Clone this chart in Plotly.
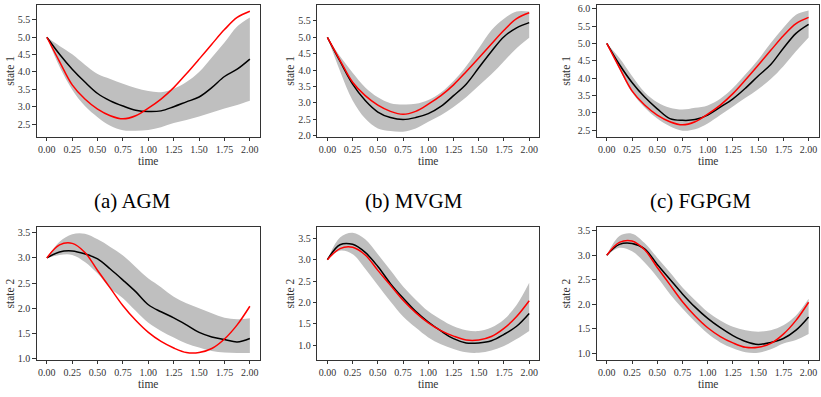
import plotly.graph_objects as go

# ---------------- data ----------------
T = [0.0, 0.125, 0.25, 0.375, 0.5, 0.625, 0.75, 0.875, 1.0,
     1.125, 1.25, 1.375, 1.5, 1.625, 1.75, 1.875, 2.0]

TRUE_S1 = [5.0, 4.3, 3.63, 3.22, 2.93, 2.74, 2.65, 2.74, 2.96,
           3.22, 3.55, 3.95, 4.37, 4.8, 5.22, 5.57, 5.75]
TRUE_S2 = [3.0, 3.26, 3.29, 3.11, 2.75, 2.4, 2.05, 1.76, 1.52,
           1.34, 1.21, 1.12, 1.12, 1.2, 1.39, 1.67, 2.04]

# AGM
AGM_MEAN1 = [5.0, 4.51, 4.08, 3.71, 3.38, 3.17, 3.02, 2.9, 2.86,
             2.88, 3.0, 3.14, 3.28, 3.55, 3.87, 4.08, 4.37]
AGM_UP1 = [5.0, 4.75, 4.51, 4.21, 3.94, 3.8, 3.66, 3.54, 3.45,
           3.42, 3.52, 3.71, 4.0, 4.42, 4.85, 5.31, 5.57]
AGM_LO1 = [5.0, 4.15, 3.49, 3.02, 2.70, 2.45, 2.32, 2.31, 2.33,
           2.41, 2.53, 2.62, 2.72, 2.83, 2.95, 3.05, 3.17]
AGM_MEAN2 = [3.0, 3.12, 3.14, 3.08, 2.98, 2.78, 2.56, 2.33, 2.07,
             1.93, 1.81, 1.67, 1.52, 1.43, 1.38, 1.33, 1.40]
AGM_UP2 = [3.0, 3.32, 3.47, 3.48, 3.37, 3.22, 3.05, 2.82, 2.59,
           2.42, 2.23, 2.1, 2.0, 1.9, 1.81, 1.78, 1.8]
AGM_LO2 = [3.0, 3.06, 3.06, 2.92, 2.69, 2.40, 2.20, 1.95, 1.71,
           1.55, 1.42, 1.3, 1.22, 1.15, 1.12, 1.11, 1.11]

# MVGM
MVGM_MEAN1 = [5.0, 4.27, 3.57, 3.07, 2.72, 2.55, 2.49, 2.55, 2.67,
              2.89, 3.22, 3.57, 4.07, 4.57, 5.02, 5.29, 5.45]
MVGM_UP1 = [5.0, 4.42, 3.92, 3.47, 3.17, 2.99, 2.95, 2.97, 3.09,
            3.32, 3.67, 4.12, 4.67, 5.22, 5.57, 5.79, 5.79]
MVGM_LO1 = [5.0, 3.97, 3.07, 2.52, 2.22, 2.14, 2.12, 2.22, 2.42,
            2.62, 2.87, 3.17, 3.52, 3.87, 4.27, 4.67, 4.99]
MVGM_MEAN2 = [3.0, 3.35, 3.36, 3.17, 2.84, 2.44, 2.10, 1.79, 1.54,
              1.33, 1.15, 1.05, 1.05, 1.10, 1.25, 1.44, 1.74]
MVGM_UP2 = [3.0, 3.52, 3.63, 3.48, 3.13, 2.75, 2.37, 2.06, 1.79,
            1.60, 1.44, 1.35, 1.33, 1.41, 1.60, 1.94, 2.46]
MVGM_LO2 = [3.0, 3.21, 3.13, 2.79, 2.40, 2.02, 1.67, 1.41, 1.18,
            1.02, 0.91, 0.83, 0.82, 0.87, 0.98, 1.14, 1.33]

# FGPGM
FGPGM_MEAN1 = [5.0, 4.39, 3.87, 3.45, 3.11, 2.83, 2.78, 2.80, 2.93,
               3.16, 3.40, 3.71, 4.06, 4.39, 4.86, 5.29, 5.55]
FGPGM_UP1 = [5.0, 4.58, 4.06, 3.59, 3.30, 3.14, 3.09, 3.14, 3.21,
             3.40, 3.71, 4.11, 4.53, 5.01, 5.45, 5.83, 5.95]
FGPGM_LO1 = [5.0, 4.25, 3.58, 3.15, 2.83, 2.61, 2.48, 2.52, 2.69,
             2.93, 3.18, 3.43, 3.68, 3.97, 4.34, 4.77, 5.17]
FGPGM_MEAN2 = [3.0, 3.22, 3.24, 3.13, 2.81, 2.51, 2.21, 1.94, 1.71,
               1.52, 1.36, 1.24, 1.18, 1.22, 1.30, 1.47, 1.74]
FGPGM_UP2 = [3.0, 3.39, 3.44, 3.25, 2.95, 2.65, 2.34, 2.08, 1.84,
             1.67, 1.54, 1.47, 1.44, 1.47, 1.57, 1.77, 2.11]
FGPGM_LO2 = [3.0, 3.15, 3.08, 2.85, 2.55, 2.21, 1.91, 1.64, 1.40,
             1.22, 1.10, 1.02, 1.01, 1.08, 1.20, 1.27, 1.39]

CAPTIONS = ["(a) AGM", "(b) MVGM", "(c) FGPGM"]
X_TICKS = [0.0, 0.25, 0.5, 0.75, 1.0, 1.25, 1.5, 1.75, 2.0]

# ---------------- layout geometry (pixels) ----------------
W, H = 821, 397
COL_PX = [(36.7, 260.0), (317.3, 539.3), (596.7, 818.7)]
ROW_PX = [(3.0, 137.0), (229.3, 364.0)]
Y_RANGES = [[(2.14, 5.93), (1.97, 5.99), (2.31, 6.11)],
            [(0.98, 3.61), (0.66, 3.76), (0.87, 3.57)]]
STATE_LABEL_X = [10.0, 290.0, 566.0]
CAPTION_X = [132.5, 414.0, 700.0]
CAPTION_Y = 203.0

panels = [
    [(AGM_MEAN1, AGM_UP1, AGM_LO1, TRUE_S1),
     (MVGM_MEAN1, MVGM_UP1, MVGM_LO1, TRUE_S1),
     (FGPGM_MEAN1, FGPGM_UP1, FGPGM_LO1, TRUE_S1)],
    [(AGM_MEAN2, AGM_UP2, AGM_LO2, TRUE_S2),
     (MVGM_MEAN2, MVGM_UP2, MVGM_LO2, TRUE_S2),
     (FGPGM_MEAN2, FGPGM_UP2, FGPGM_LO2, TRUE_S2)],
]

FONT = "Liberation Serif"
AX_COLOR = "#333333"

fig = go.Figure()
layout = dict(width=W, height=H, margin=dict(l=0, r=0, t=0, b=0),
              paper_bgcolor="white", plot_bgcolor="white",
              showlegend=False, annotations=[])

idx = 0
for r in range(2):
    for c in range(3):
        idx += 1
        xa = "x" if idx == 1 else f"x{idx}"
        ya = "y" if idx == 1 else f"y{idx}"
        mean, up, lo, true = panels[r][c]
        fig.add_trace(go.Scatter(x=T, y=lo, mode="lines", line=dict(width=0, shape="spline"),
                                 hoverinfo="skip", xaxis=xa, yaxis=ya))
        fig.add_trace(go.Scatter(x=T, y=up, mode="lines", line=dict(width=0, shape="spline"),
                                 fill="tonexty", fillcolor="#bfbfbf",
                                 hoverinfo="skip", xaxis=xa, yaxis=ya))
        fig.add_trace(go.Scatter(x=T, y=mean, mode="lines",
                                 line=dict(color="black", width=1.5, shape="spline"),
                                 xaxis=xa, yaxis=ya))
        fig.add_trace(go.Scatter(x=T, y=true, mode="lines",
                                 line=dict(color="red", width=1.5, shape="spline"),
                                 xaxis=xa, yaxis=ya))
        x0, x1 = COL_PX[c]
        y0, y1 = ROW_PX[r]
        common = dict(showgrid=False, zeroline=False, showline=True, mirror=True,
                      linecolor=AX_COLOR, linewidth=1, ticks="outside", ticklen=3.5,
                      tickwidth=1, tickcolor=AX_COLOR,
                      tickfont=dict(family=FONT, size=10, color="#333333"))
        layout["xaxis" if idx == 1 else f"xaxis{idx}"] = dict(
            domain=[x0 / W, x1 / W], range=[-0.1, 2.1], anchor=ya,
            tickvals=X_TICKS, ticktext=[f"{v:.2f}" for v in X_TICKS], **common)
        yr = Y_RANGES[r][c]
        layout["yaxis" if idx == 1 else f"yaxis{idx}"] = dict(
            domain=[1 - y1 / H, 1 - y0 / H], range=list(yr), anchor=xa,
            tickmode="linear", tick0=0, dtick=0.5, tickformat=".1f", **common)
        # axis titles
        layout["annotations"].append(dict(
            text="time", xref="paper", yref="paper", showarrow=False,
            x=((x0 + x1) / 2) / W, y=1 - (y1 + 24.5) / H, xanchor="center", yanchor="middle",
            font=dict(family=FONT, size=11.5, color="#333333")))
        layout["annotations"].append(dict(
            text=f"state {r + 1}", xref="paper", yref="paper", showarrow=False,
            x=STATE_LABEL_X[c] / W, y=1 - ((y0 + y1) / 2) / H, textangle=-90,
            xanchor="center", yanchor="middle",
            font=dict(family=FONT, size=11.5, color="#333333")))

for c in range(3):
    layout["annotations"].append(dict(
        text=CAPTIONS[c], xref="paper", yref="paper", showarrow=False,
        x=CAPTION_X[c] / W, y=1 - CAPTION_Y / H, xanchor="center", yanchor="middle",
        font=dict(family=FONT, size=21, color="black")))

fig.update_layout(**layout)
fig.write_html("out.html")
